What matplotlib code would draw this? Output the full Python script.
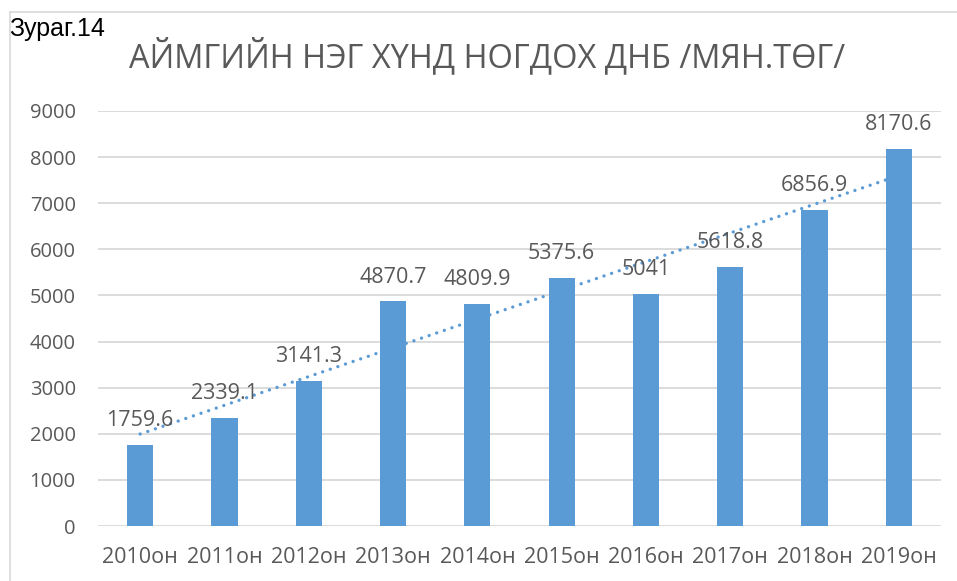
import numpy as np
import matplotlib
matplotlib.use('Agg')
import matplotlib.pyplot as plt
from matplotlib.lines import Line2D

# data
years = ['2010он', '2011он', '2012он', '2013он', '2014он',
         '2015он', '2016он', '2017он', '2018он', '2019он']
values = [1759.6, 2339.1, 3141.3, 4870.7, 4809.9,
          5375.6, 5041, 5618.8, 6856.9, 8170.6]
labels = ['1759.6', '2339.1', '3141.3', '4870.7', '4809.9',
          '5375.6', '5041', '5618.8', '6856.9', '8170.6']
yticks = [0, 1000, 2000, 3000, 4000, 5000, 6000, 7000, 8000, 9000]
title = 'АЙМГИЙН НЭГ ХҮНД НОГДОХ ДНБ /МЯН.ТӨГ/'
caption = 'Зураг.14'

plt.rcParams['font.family'] = ['Open Sans', 'DejaVu Sans']

W, H = 957, 581
fig = plt.figure(figsize=(W / 100, H / 100), dpi=100)

# chart frame (top and left edge, the rest is cropped)
frame_c = '#d9d9d9'
fig.add_artist(Line2D([10 / W, 10 / W], [0, 1 - 12 / H], color=frame_c, lw=1.2))
fig.add_artist(Line2D([10 / W, 1], [1 - 12 / H, 1 - 12 / H], color=frame_c, lw=1.2))

ax = fig.add_axes([98 / W, 55 / H, (941 - 98) / W, (526 - 111) / H])

x = np.arange(len(values))
blue = '#5b9bd5'
ax.bar(x, values, width=0.31, color=blue, zorder=3)

# linear trendline
k, b = np.polyfit(x, values, 1)
ax.plot([x[0], x[-1]], [k * x[0] + b, k * x[-1] + b], color=blue, lw=2.4,
        linestyle=(0, (0.01, 2.4)), dash_capstyle='round', zorder=4)

txt = '#595959'
for xi, v, lab in zip(x, values, labels):
    ax.annotate(lab, (xi, v), xytext=(0, 10), textcoords='offset points',
                ha='center', va='bottom', fontsize=15.5, color=txt, zorder=5)

ax.set_xlim(-0.5, len(values) - 0.5)
ax.set_ylim(0, 9000)
ax.set_yticks(yticks)
ax.set_xticks(x)
ax.set_xticklabels(years)
ax.yaxis.grid(True, color='#d9d9d9', lw=1.3, zorder=0)
ax.set_axisbelow(True)
for s in ax.spines.values():
    s.set_visible(False)
ax.tick_params(axis='both', length=0, labelcolor=txt)
ax.tick_params(axis='y', pad=16, labelsize=14.5)
ax.tick_params(axis='x', pad=15, labelsize=15.5)

fig.text(487 / W, 1 - 56 / H, title, ha='center', va='center',
         fontsize=23.4, color=txt)
fig.text(9 / W, 1 - 29 / H, caption, ha='left', va='center',
         fontsize=18, color='black', family=['Liberation Sans', 'DejaVu Sans'])

fig.savefig('out.png', dpi=100)
